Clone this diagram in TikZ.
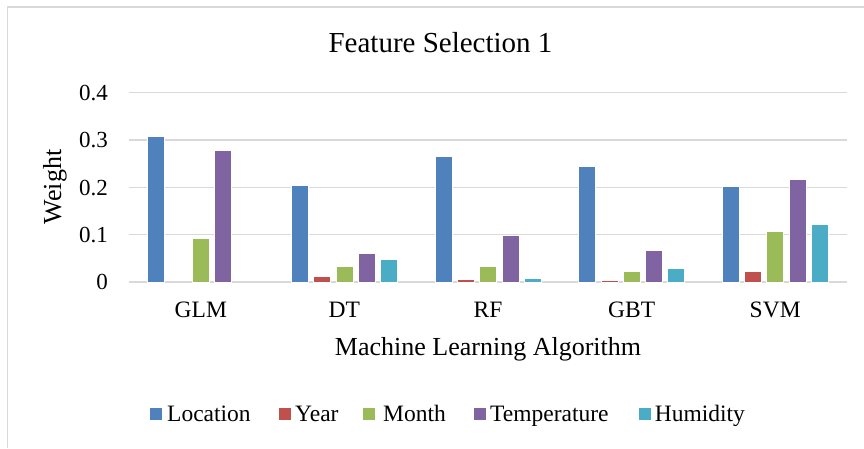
\documentclass[tikz,border=0pt]{standalone}
\usepackage{fontspec}
\setmainfont{Liberation Serif}
\definecolor{cLoc}{HTML}{4F81BD}
\definecolor{cYear}{HTML}{C0504D}
\definecolor{cMonth}{HTML}{9BBB59}
\definecolor{cTemp}{HTML}{8064A2}
\definecolor{cHum}{HTML}{4BACC6}
\definecolor{gridc}{HTML}{D9D9D9}
\tikzset{
  gridline/.style={draw=gridc, line width=1.4pt},
  framel/.style={draw=gridc, line width=1.5pt},
  bar/.style={draw=white, line width=0.6pt},
  ticklbl/.style={anchor=base east, inner sep=0pt, font=\fontsize{23}{26}\selectfont},
  catlbl/.style={anchor=base, inner sep=0pt, font=\fontsize{23.5}{26}\selectfont},
  axtitle/.style={anchor=base, inner sep=0pt, font=\fontsize{26}{30}\selectfont},
  ttl/.style={anchor=base, inner sep=0pt, font=\fontsize{29}{33}\selectfont},
  legtxt/.style={anchor=base west, inner sep=0pt, font=\fontsize{23.5}{26}\selectfont},
  legsq/.style={minimum size=12pt, inner sep=0pt, draw=none}
}
\begin{document}
\begin{tikzpicture}[x=1pt,y=1pt]
\useasboundingbox (0,0) rectangle (864,448);
% frame (only left and top visible)
\draw[framel] (7.5,0) -- (7.5,441) -- (864,441);
% gridlines
\foreach \v/\lab in {0/0,1/0.1,2/0.2,3/0.3,4/0.4}{
  \draw[gridline] (129,166+47.3*\v) -- (847,166+47.3*\v);
  \node[ticklbl] (tick\v) at (108,166+47.3*\v-7.8) {\lab};
}
% bars
\foreach \i/\cat/\a/\b/\c/\d/\e in {
  0/GLM/0.309/0/0.093/0.278/0,
  1/DT/0.204/0.011/0.034/0.061/0.047,
  2/RF/0.266/0.005/0.034/0.099/0.008,
  3/GBT/0.244/0.004/0.022/0.066/0.028,
  4/SVM/0.202/0.023/0.108/0.218/0.121}{
  \pgfmathsetmacro{\cx}{129+143.6*(\i+0.5)}
  \foreach \k/\val/\col in {0/\a/cLoc,1/\b/cYear,2/\c/cMonth,3/\d/cTemp,4/\e/cHum}{
    \pgfmathsetmacro{\bx}{\cx+(\k-2)*22.3}
    \pgfmathsetmacro{\by}{166+473*\val}
    \ifdim \val pt>0pt
      \path[bar, fill=\col] (\bx-8.5,166) rectangle (\bx+8.5,\by);
    \fi
  }
  \node[catlbl] (cat\i) at (\cx,130.7) {\cat};
}
% titles
\node[ttl] (title) at (440.5,395) {Feature Selection 1};
\node[axtitle] (xtitle) at (488,93) {Machine Learning Algorithm};
\node[axtitle, rotate=90] (ytitle) at (61,261) {Weight};
% legend
\foreach \n/\sx/\tx/\col/\txt in {
  loc/156/167/cLoc/Location,
  year/284.5/295/cYear/Year,
  month/368.5/383/cMonth/Month,
  temp/479.5/490/cTemp/Temperature,
  hum/644.5/654.6/cHum/Humidity}{
  \node[legsq, fill=\col] (sq\n) at (\sx,34) {};
  \node[legtxt] (lg\n) at (\tx,27) {\txt};
}
\end{tikzpicture}
\end{document}
